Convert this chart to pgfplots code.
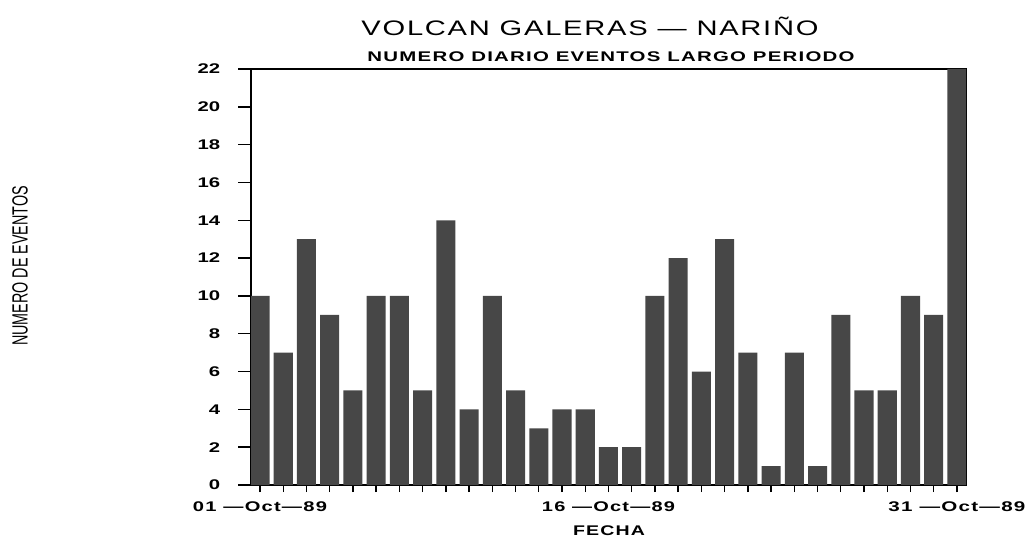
\documentclass[border=0pt]{standalone}
\usepackage{pgfplots}
\pgfplotsset{compat=1.18}
\usepackage{fontspec}
\setmainfont{Liberation Sans}
\newfontfamily\pf{Liberation Sans}[LetterSpace=6]
\newfontfamily\pfn{Liberation Sans}

% stretch a label horizontally to a given width, keeping its height
\newcommand{\wide}[2]{\resizebox{#1}{\height}{#2}}

\begin{document}
\begin{tikzpicture}[x=1pt,y=1pt]
\useasboundingbox (0,0) rectangle (1030,541);
\begin{axis}[
  at={(251pt,56pt)}, anchor=south west,
  scale only axis, width=715pt, height=416pt,
  xmin=0.613, xmax=31.39, ymin=0, ymax=22,
  axis line style={line width=1.6pt},
  ytick={0,2,...,22},
  yticklabel={\scalebox{1.45}[1]{\pgfmathprintnumber{\tick}}},
  xtick={1,16,31},
  xticklabels={\wide{134pt}{01 —Oct—89},\wide{133pt}{16 —Oct—89},\wide{137pt}{31 —Oct—89}},
  minor xtick={1,...,31},
  tick align=outside,
  xtick pos=bottom, ytick pos=left,
  tick style={line width=1.4pt, black},
  ytick style={/pgfplots/major tick length=13pt},
  xtick style={/pgfplots/major tick length=7pt},
  minor tick length=7pt,
  /pgf/number format/assume math mode=true,
  yticklabel style={font=\pfn\bfseries\fontsize{14}{14}\selectfont, xshift=-23pt},
  xticklabel style={font=\pf\bfseries\fontsize{14}{14}\selectfont, yshift=-9pt},
  ybar, bar width=0.82,
]
\addplot[fill=black!72, draw=none] coordinates {
 (1,10) (2,7) (3,13) (4,9) (5,5) (6,10) (7,10) (8,5) (9,14) (10,4)
 (11,10) (12,5) (13,3) (14,4) (15,4) (16,2) (17,2) (18,10) (19,12) (20,6)
 (21,13) (22,7) (23,1) (24,7) (25,1) (26,9) (27,5) (28,5) (29,10) (30,9)
 (31,22)
};
\end{axis}
\node[font=\pf\fontsize{21}{21}\selectfont] at (590,515) {\wide{457pt}{VOLCAN GALERAS — NARIÑO}};
\node[font=\pf\bfseries\fontsize{14}{14}\selectfont] at (611,484) {\wide{487pt}{NUMERO DIARIO EVENTOS LARGO PERIODO}};
\node[font=\pf\bfseries\fontsize{14}{14}\selectfont] at (609,10) {\wide{72pt}{FECHA}};
\node[rotate=90, font=\pfn\fontsize{22}{22}\selectfont] at (20,275) {\wide{160pt}{NUMERO DE EVENTOS}};
\end{tikzpicture}
\end{document}
